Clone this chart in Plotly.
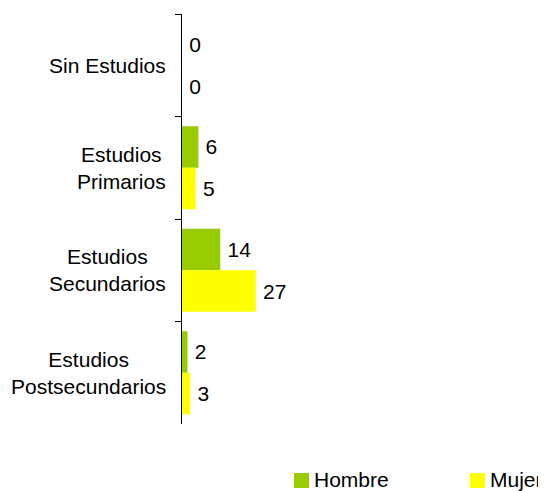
import plotly.graph_objects as go

categories = ["Sin Estudios", "Estudios Primarios", "Estudios Secundarios", "Estudios Postsecundarios"]
cat_labels = ["Sin Estudios", "Estudios<br>Primarios", "Estudios<br>Secundarios", "Estudios<br>Postsecundarios"]
series_names = ["Hombre", "Mujer"]
series_colors = ["#99cc00", "#ffff00"]
hombre = [0, 6, 14, 2]
mujer = [0, 5, 27, 3]

FONT = "Liberation Sans, Arial, sans-serif"
FS = 21

# page body has an 8px margin; figure coordinates = screen - OFF
OFF = 8
W, H = 546 - OFF, 491 - OFF
L, T = 182 - OFF, 14 - OFF
PR, PB = 510 - OFF, 424 - OFF          # plot right / bottom in figure px
R, B = W - PR, H - PB
PW, PH = PR - L, PB - T


def px(x):
    return (x - OFF - L) / PW


def py(y):
    return (PB - (y - OFF)) / PH


fig = go.Figure()
for name, vals, col in zip(series_names, [hombre, mujer], series_colors):
    fig.add_trace(go.Bar(
        y=categories, x=vals, name=name, orientation="h",
        marker=dict(color=col, line=dict(width=0)),
        text=[f"\u2009{v}" for v in vals], textposition="outside",
        textfont=dict(size=FS, color="#000000", family=FONT), cliponaxis=False,
    ))

for c, lab in zip(categories, cat_labels):
    fig.add_annotation(
        x=0, xref="paper", y=c, yref="y", text=lab, showarrow=False,
        xanchor="right", yanchor="middle", align="center", xshift=-14,
        font=dict(size=FS, color="#000000", family=FONT),
    )

# legend (drawn manually so it does not push the plot margins)
leg_boxes = [(294, 309), (470, 485)]
leg_text_x = [313, 489]
for name, col, (x0, x1), tx in zip(series_names, series_colors, leg_boxes, leg_text_x):
    fig.add_shape(type="rect", xref="paper", yref="paper",
                  x0=px(x0), x1=px(x1), y0=py(488), y1=py(473),
                  fillcolor=col, line=dict(width=0))
    fig.add_annotation(x=px(tx), xref="paper", y=py(479), yref="paper",
                       text=name, showarrow=False, xanchor="left", yanchor="middle",
                       borderpad=0, font=dict(size=FS, color="#000000", family=FONT))

fig.update_layout(
    width=W, height=H,
    margin=dict(l=L, r=R, t=T, b=B, autoexpand=False),
    paper_bgcolor="white", plot_bgcolor="white",
    barmode="group", bargap=0.19, bargroupgap=0,
    font=dict(family=FONT, size=FS, color="#000000"),
    showlegend=False,
)
fig.update_xaxes(range=[0, 120], showgrid=False, zeroline=False, showline=False,
                 showticklabels=False, ticks="")
fig.update_yaxes(
    type="category", categoryorder="array", categoryarray=categories,
    autorange="reversed", showgrid=False, zeroline=False,
    showline=True, linecolor="#000000", linewidth=1,
    ticks="outside", tickson="boundaries", ticklen=6, tickcolor="#000000",
    showticklabels=False,
)

fig.write_html("out.html")
